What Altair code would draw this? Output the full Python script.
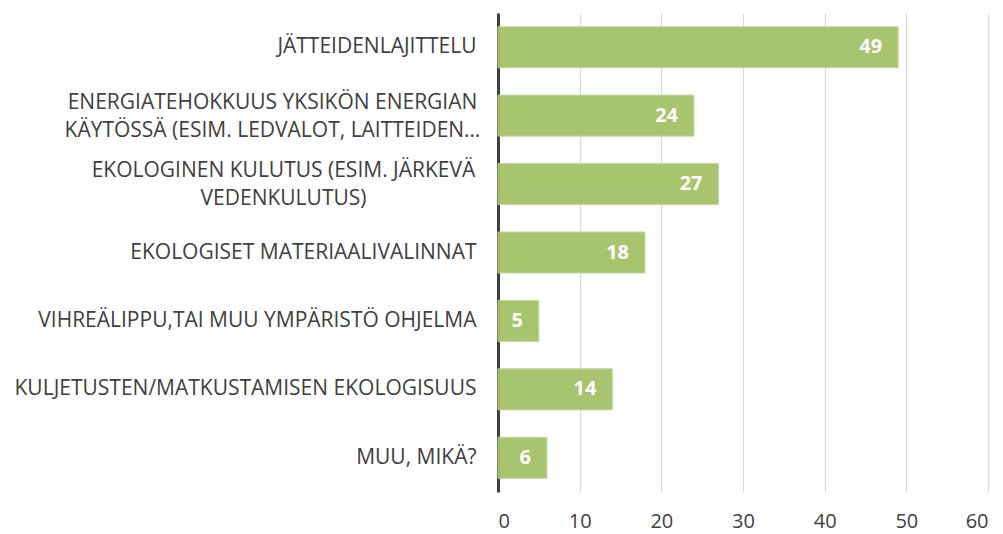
import altair as alt
import pandas as pd

categories = [
    "JÄTTEIDENLAJITTELU",
    "ENERGIATEHOKKUUS YKSIKÖN ENERGIAN|KÄYTÖSSÄ (ESIM. LEDVALOT, LAITTEIDEN…",
    "EKOLOGINEN KULUTUS (ESIM. JÄRKEVÄ|VEDENKULUTUS)",
    "EKOLOGISET MATERIAALIVALINNAT",
    "VIHREÄLIPPU,TAI MUU YMPÄRISTÖ OHJELMA",
    "KULJETUSTEN/MATKUSTAMISEN EKOLOGISUUS",
    "MUU, MIKÄ?",
]
values = [49, 24, 27, 18, 5, 14, 6]
x_ticks = [0, 10, 20, 30, 40, 50, 60]

df = pd.DataFrame({"cat": categories, "val": values})

FONT = "Open Sans"

align_expr = "indexof(datum.value, '|') >= 0 ? 'center' : 'right'"
pad_expr = ("indexof(datum.value, 'ENERGIATEHOKKUUS') >= 0 ? 226 : "
            "(indexof(datum.value, 'EKOLOGINEN KULUTUS') >= 0 ? 215 : 22)")
offset_expr = "indexof(datum.value, '|') >= 0 ? -13 : 0"

y_enc = alt.Y(
    "cat:N",
    sort=categories,
    title=None,
    scale=alt.Scale(paddingInner=0.4, paddingOuter=0.2),
    axis=alt.Axis(
        labelExpr="split(datum.value, '|')",
        labelFont=FONT,
        labelFontSize=21,
        labelColor="#404040",
        labelLineHeight=28,
        labelAlign=alt.ExprRef(align_expr),
        labelPadding=alt.ExprRef(pad_expr),
        labelOffset=alt.ExprRef(offset_expr),
        labelLimit=600,
        ticks=False,
        domain=True,
        domainColor="#404040",
        domainWidth=3,
        grid=False,
    ),
)

x_enc = alt.X(
    "val:Q",
    title=None,
    scale=alt.Scale(domain=[0, 60], nice=False),
    axis=alt.Axis(
        values=x_ticks,
        labelFont=FONT,
        labelFontSize=20,
        labelColor="#404040",
        labelPadding=19,
        ticks=False,
        domain=False,
        grid=True,
        gridColor="#d9d9d9",
        gridWidth=1.2,
    ),
)

bars = alt.Chart(df).mark_bar(
    color="#a2c062", opacity=0.92, stroke="#c3d69b", strokeWidth=1
).encode(x=x_enc, y=y_enc)

labels = alt.Chart(df).mark_text(
    align="right", baseline="middle", dx=-16, color="white",
    font=FONT, fontSize=20, fontWeight="bold"
).encode(
    x=alt.X("val:Q", scale=alt.Scale(domain=[0, 60], nice=False)),
    y=alt.Y("cat:N", sort=categories),
    text="val:Q",
)

chart = (
    alt.layer(bars, labels)
    .properties(
        width=490,
        height=479,
        autosize=alt.AutoSizeParams(type="none"),
        padding={"left": 490, "top": 5, "right": 5, "bottom": 42},
    )
    .configure_view(stroke=None)
)

chart.save("out.html", embed_options={"renderer": "svg", "actions": False})
